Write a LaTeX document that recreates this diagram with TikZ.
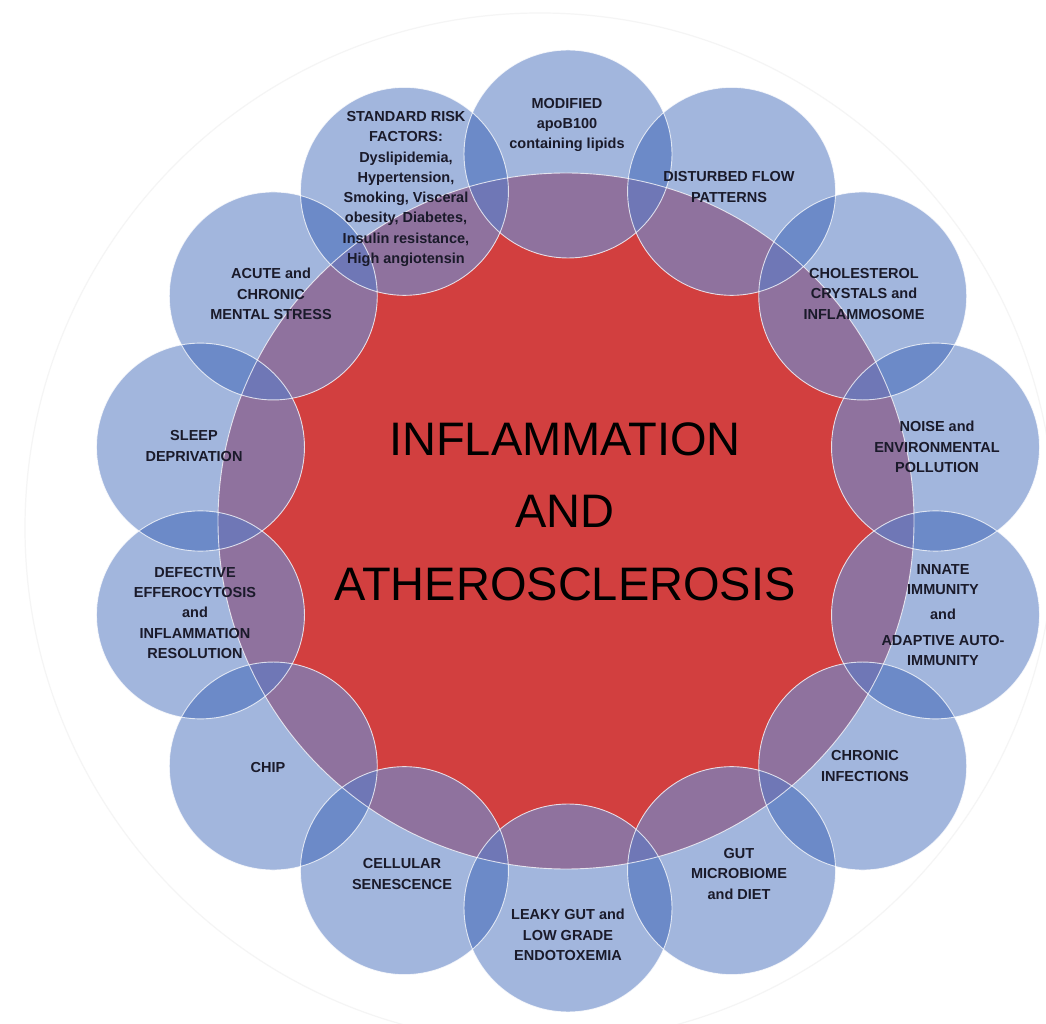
\documentclass[tikz,border=0pt]{standalone}
\usepackage{fontspec}
\setmainfont{Liberation Sans}
\definecolor{ringred}{RGB}{210,63,63}
\definecolor{petal}{RGB}{162,182,221}
\definecolor{petalred}{RGB}{143,114,158}
\definecolor{lens}{RGB}{108,138,200}
\definecolor{lensred}{RGB}{111,119,182}
\definecolor{labeltext}{RGB}{26,26,42}
\begin{document}
\begin{tikzpicture}[x=1pt,y=1pt,
  petaltext/.style={font=\bfseries\fontsize{14.5}{20.3}\selectfont, align=center, text=labeltext, inner sep=0pt},
  titletext/.style={font=\fontsize{47}{72.5}\selectfont, align=center, text=black, inner sep=0pt},
  rim/.style={draw=white, draw opacity=0.75, line width=0.9pt}]
\useasboundingbox (0,0) rectangle (1046,1023);
\fill[white] (0,0) rectangle (1046,1023);
% faint outer ring
\draw[black!4, line width=1.2pt] (540,495) circle[radius=515];

% centre disc and the fourteen petal centres
\coordinate (core) at (566,502);
\foreach \k in {0,...,13}{
  \coordinate (p\k) at ({568+377*cos(90-\k*360/14)},{492+377*sin(90-\k*360/14)});
}

% red core
\fill[ringred] (core) circle[radius=348];
% petals on white
\foreach \k in {0,...,13}{
  \fill[petal] (p\k) circle[radius=104];
}
% petals over the core
\begin{scope}
  \clip (core) circle[radius=348];
  \foreach \k in {0,...,13}{
    \fill[petalred] (p\k) circle[radius=104];
  }
\end{scope}
% lenses where neighbouring petals overlap
\foreach \k in {0,...,13}{
  \pgfmathtruncatemacro{\nxt}{mod(\k+1,14)}
  \begin{scope}
    \clip (p\k) circle[radius=104];
    \fill[lens] (p\nxt) circle[radius=104];
  \end{scope}
}
\begin{scope}
  \clip (core) circle[radius=348];
  \foreach \k in {0,...,13}{
    \pgfmathtruncatemacro{\nxt}{mod(\k+1,14)}
    \begin{scope}
      \clip (p\k) circle[radius=104];
      \fill[lensred] (p\nxt) circle[radius=104];
    \end{scope}
  }
\end{scope}
% thin light rims
\draw[rim] (core) circle[radius=348];
\foreach \k in {0,...,13}{
  \draw[rim] (p\k) circle[radius=104];
}

% title
\node[titletext] (title) at (565,511.5) {INFLAMMATION\\AND\\ATHEROSCLEROSIS};

% petal labels
\node[petaltext] (modified) at (567,898) {MODIFIED\\apoB100\\containing lipids};
\node[petaltext] (flow) at (729,836) {DISTURBED FLOW\\PATTERNS};
\node[petaltext] (crystals) at (864,729) {CHOLESTEROL\\CRYSTALS and\\INFLAMMOSOME};
\node[petaltext] (noise) at (937,576) {NOISE and\\ENVIRONMENTAL\\POLLUTION};
\node[petaltext] (immunity) at (943,408) {INNATE\\IMMUNITY\\[5pt]and\\[5pt]ADAPTIVE AUTO-\\IMMUNITY};
\node[petaltext] (infections) at (865,257) {CHRONIC\\INFECTIONS};
\node[petaltext] (microbiome) at (739,149) {GUT\\MICROBIOME\\and DIET};
\node[petaltext] (leaky) at (568,88) {LEAKY GUT and\\LOW GRADE\\ENDOTOXEMIA};
\node[petaltext] (senescence) at (402,149) {CELLULAR\\SENESCENCE};
\node[petaltext] (chip) at (268,255) {CHIP};
\node[petaltext] (efferocytosis) at (195,410) {DEFECTIVE\\EFFEROCYTOSIS\\and\\INFLAMMATION\\RESOLUTION};
\node[petaltext] (sleep) at (194,577) {SLEEP\\DEPRIVATION};
\node[petaltext] (stress) at (271,729) {ACUTE and\\CHRONIC\\MENTAL STRESS};
\node[petaltext] (risk) at (406,834) {STANDARD RISK\\FACTORS:\\Dyslipidemia,\\Hypertension,\\Smoking, Visceral\\obesity, Diabetes,\\Insulin resistance,\\High angiotensin};
\end{tikzpicture}
\end{document}
